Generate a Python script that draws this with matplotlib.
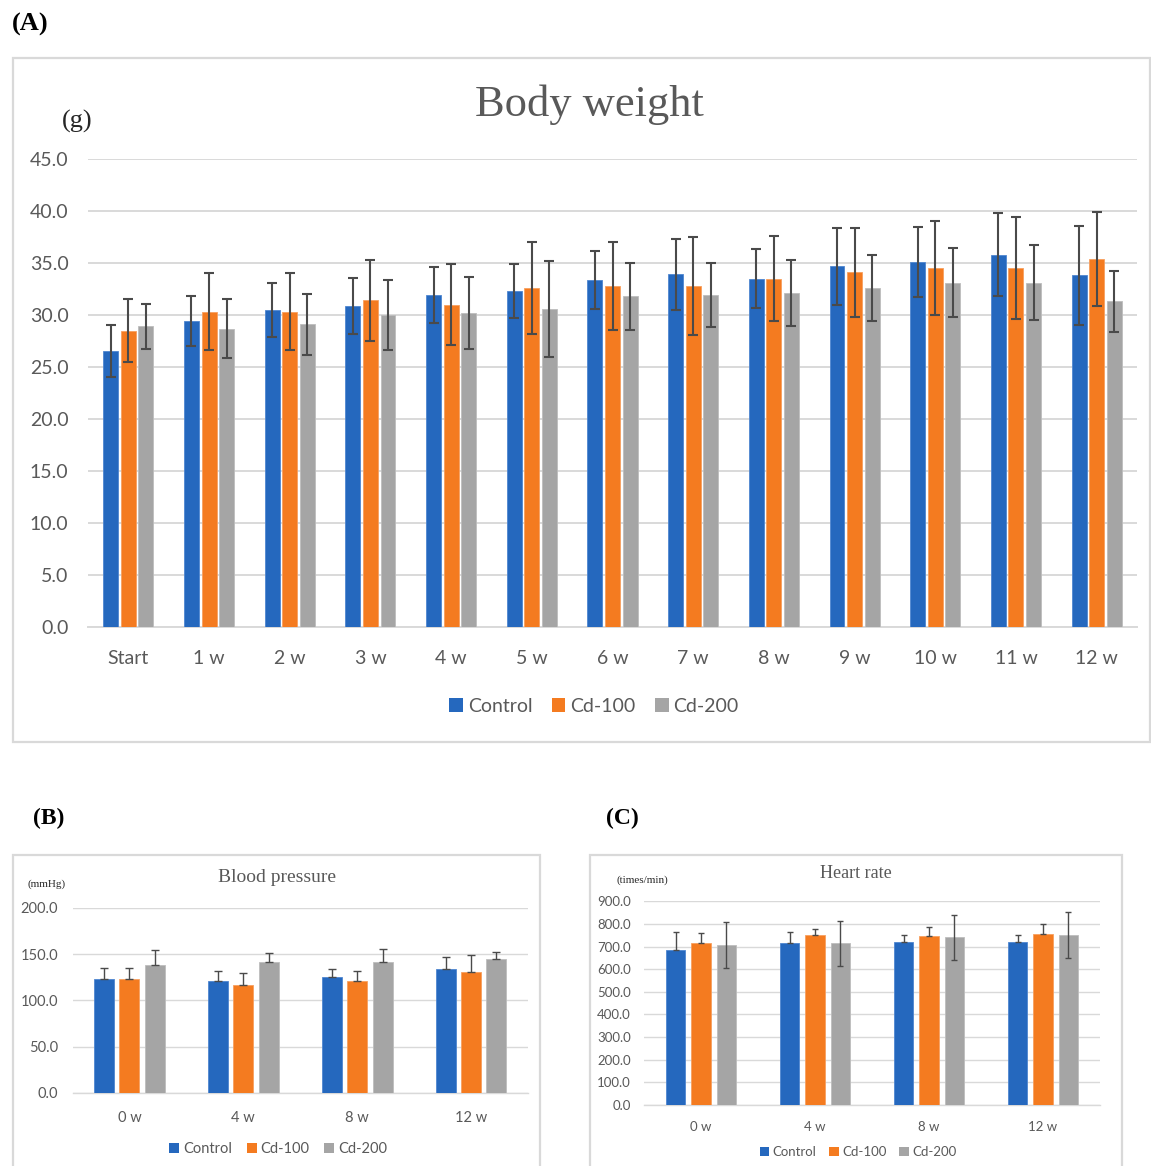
import matplotlib
matplotlib.use("Agg")
import matplotlib.pyplot as plt
import numpy as np
from matplotlib.patches import Rectangle, Patch

# ---------------- data ----------------
series = ["Control", "Cd-100", "Cd-200"]

bw_weeks = ["Start", "1 w", "2 w", "3 w", "4 w", "5 w", "6 w",
            "7 w", "8 w", "9 w", "10 w", "11 w", "12 w"]
bw_control = [26.5, 29.4, 30.5, 30.9, 31.9, 32.3, 33.4, 33.9, 33.5, 34.7, 35.1, 35.8, 33.8]
bw_cd100 = [28.5, 30.3, 30.3, 31.4, 31.0, 32.6, 32.8, 32.8, 33.5, 34.1, 34.5, 34.5, 35.4]
bw_cd200 = [28.9, 28.7, 29.1, 30.0, 30.2, 30.6, 31.8, 31.9, 32.1, 32.6, 33.1, 33.1, 31.3]
bw_control_sd = [2.5, 2.4, 2.6, 2.7, 2.7, 2.6, 2.8, 3.4, 2.8, 3.7, 3.4, 4.0, 4.8]
bw_cd100_sd = [3.0, 3.7, 3.7, 3.9, 3.9, 4.4, 4.2, 4.7, 4.1, 4.3, 4.5, 4.9, 4.5]
bw_cd200_sd = [2.2, 2.8, 2.9, 3.4, 3.5, 4.6, 3.2, 3.1, 3.2, 3.2, 3.3, 3.6, 2.9]

bp_weeks = ["0 w", "4 w", "8 w", "12 w"]
bp_control = [123.4, 121.2, 125.5, 133.4]
bp_cd100 = [122.7, 116.2, 120.5, 130.6]
bp_cd200 = [137.8, 141.0, 141.7, 144.6]
bp_control_sd = [11.0, 10.8, 8.6, 13.3]
bp_cd100_sd = [12.5, 13.3, 11.5, 18.0]
bp_cd200_sd = [16.5, 10.4, 13.7, 7.9]

hr_weeks = ["0 w", "4 w", "8 w", "12 w"]
hr_control = [683.0, 717.0, 719.0, 719.0]
hr_cd100 = [714.0, 751.0, 748.0, 755.0]
hr_cd200 = [708.0, 714.0, 741.0, 751.0]
hr_control_sd = [81.0, 49.0, 31.0, 32.0]
hr_cd100_sd = [47.0, 25.0, 38.0, 43.0]
hr_cd200_sd = [101.0, 101.0, 99.0, 103.0]

# ---------------- style ----------------
colors = ["#2568BE", "#F47B20", "#A5A5A5"]
edges = ["#4F86D0", "#F7A060", "#BDBDBD"]
grid_c = "#D9D9D9"
tick_c = "#595959"
err_c = "#4A4A4A"
sans = ["Lato", "DejaVu Sans"]
serif = ["Liberation Serif", "DejaVu Serif"]

W, H = 1151, 1166
fig = plt.figure(figsize=(W / 100, H / 100), dpi=100)


def rect(l, t, r, b):
    return [l / W, 1 - b / H, (r - l) / W, (b - t) / H]


def frame(l, t, r, b):
    fig.patches.append(Rectangle((l / W, 1 - b / H), (r - l) / W, (b - t) / H,
                                 transform=fig.transFigure, fill=False,
                                 edgecolor=grid_c, linewidth=1.6, zorder=0))


def panel(pos, cats, vals, sds, plus_only, ylim, step, fs, width, offset,
          elw, cap):
    ax = fig.add_axes(pos)
    x = np.arange(len(cats))
    for i in range(3):
        xs = x + (i - 1) * offset
        ax.bar(xs, vals[i], width=width, color=colors[i], edgecolor=edges[i],
               linewidth=0.6, zorder=3)
        lo = np.zeros(len(cats)) if plus_only[i] else np.array(sds[i])
        ax.errorbar(xs, vals[i], yerr=[lo, sds[i]], fmt="none", ecolor=err_c,
                    elinewidth=elw, capsize=cap, capthick=elw, zorder=4)
    ax.set_xlim(-0.5, len(cats) - 0.5)
    ax.set_ylim(*ylim)
    ax.set_yticks(np.arange(ylim[0], ylim[1] + step / 2, step))
    ax.yaxis.set_major_formatter(matplotlib.ticker.FormatStrFormatter("%.1f"))
    ax.set_xticks(x)
    ax.set_xticklabels(cats)
    ax.grid(axis="y", color=grid_c, linewidth=1.4 if fs > 12 else 1.0, zorder=0)
    ax.set_axisbelow(True)
    for s in ["top", "right", "left"]:
        ax.spines[s].set_visible(False)
    ax.spines["bottom"].set_color(grid_c)
    ax.spines["bottom"].set_linewidth(1.4 if fs > 12 else 1.0)
    ax.tick_params(length=0, labelsize=fs, labelcolor=tick_c)
    for lab in ax.get_xticklabels() + ax.get_yticklabels():
        lab.set_family(sans)
    ax.tick_params(axis="y", pad=fs * 1.0)
    ax.tick_params(axis="x", pad=fs * 1.2)
    return ax


def legend(cx, cy, fs):
    handles = [Patch(facecolor=c, edgecolor="none") for c in colors]
    fig.legend(handles, series, loc="center", bbox_to_anchor=(cx / W, 1 - cy / H),
               ncol=3, frameon=False, handlelength=0.7, handleheight=0.7,
               handletextpad=0.25, columnspacing=1.0,
               prop={"family": sans, "size": fs}, labelcolor=tick_c)


# ---------------- panel A ----------------
frame(13, 58, 1150, 742)
panel(rect(88, 159, 1137, 627), bw_weeks,
      [bw_control, bw_cd100, bw_cd200],
      [bw_control_sd, bw_cd100_sd, bw_cd200_sd],
      [False, False, False], (0, 45), 5, 14, 0.185, 0.218, 1.5, 3.8)
fig.text(589 / W, 1 - 105 / H, "Body weight", ha="center", va="center",
         family=serif, fontsize=32, color=tick_c)
fig.text(77 / W, 1 - 121 / H, "(g)", ha="center", va="center",
         family=serif, fontsize=19, color="#262626")
fig.text(12 / W, 1 - 24 / H, "(A)", ha="left", va="center",
         family=serif, fontsize=19, fontweight="bold", color="black")
legend(594, 706, 14)

# ---------------- panel B ----------------
frame(13, 855, 540, 1180)
panel(rect(72.5, 907.7, 528, 1093), bp_weeks,
      [bp_control, bp_cd100, bp_cd200],
      [bp_control_sd, bp_cd100_sd, bp_cd200_sd],
      [True, True, True], (0, 200), 50, 10.5, 0.175, 0.223, 1.0, 2.6)
fig.text(277 / W, 1 - 878 / H, "Blood pressure", ha="center", va="center",
         family=serif, fontsize=14, color=tick_c)
fig.text(47 / W, 1 - 884 / H, "(mmHg)", ha="center", va="center",
         family=serif, fontsize=8, color="#262626")
fig.text(33 / W, 1 - 818 / H, "(B)", ha="left", va="center",
         family=serif, fontsize=17, fontweight="bold", color="black")
legend(278, 1149, 10.5)

# ---------------- panel C ----------------
frame(590, 855, 1122, 1180)
panel(rect(644, 901.3, 1100, 1105), hr_weeks,
      [hr_control, hr_cd100, hr_cd200],
      [hr_control_sd, hr_cd100_sd, hr_cd200_sd],
      [True, True, False], (0, 900), 100, 9.5, 0.17, 0.223, 1.0, 2.4)
fig.text(856 / W, 1 - 874 / H, "Heart rate", ha="center", va="center",
         family=serif, fontsize=13, color=tick_c)
fig.text(642 / W, 1 - 880 / H, "(times/min)", ha="center", va="center",
         family=serif, fontsize=8, color="#262626")
fig.text(606 / W, 1 - 818 / H, "(C)", ha="left", va="center",
         family=serif, fontsize=17, fontweight="bold", color="black")
legend(858, 1152, 9.5)

fig.savefig("out.png", dpi=100)
